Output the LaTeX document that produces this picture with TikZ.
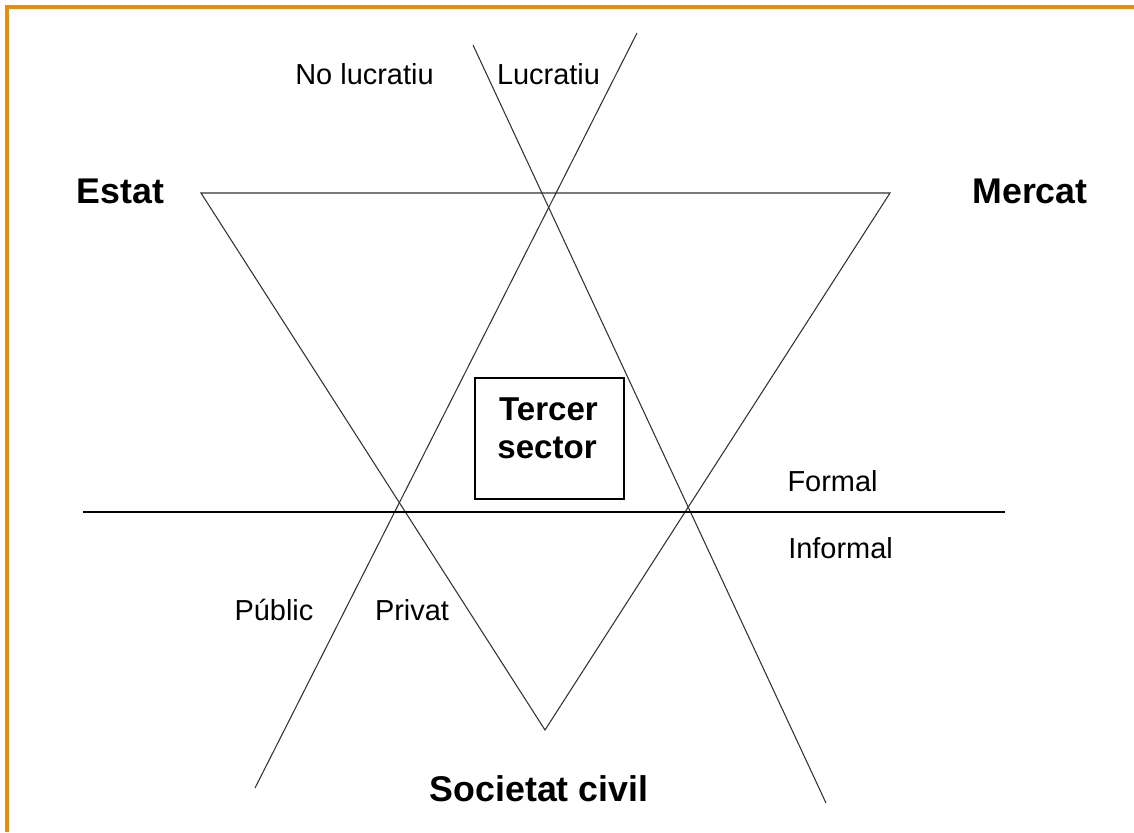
\documentclass[tikz,border=0pt]{standalone}
\usepackage{fontspec}
\setmainfont{Liberation Sans}
\definecolor{frameorange}{RGB}{232,142,12}
\begin{document}
\begin{tikzpicture}[x=0.75pt,y=-0.75pt,
  lbl/.style={font=\fontsize{21.7}{24}\selectfont, inner sep=0pt, anchor=base},
  big/.style={font=\bfseries\fontsize{26.8}{30}\selectfont, inner sep=0pt, anchor=base},
  mid/.style={font=\bfseries\fontsize{24.8}{28}\selectfont, inner sep=0pt, anchor=base},
  thin/.style={line width=0.8pt, draw=black!80},
  axis/.style={line width=1.1pt, draw=black}]
\useasboundingbox (0,0) rectangle (1134,832);
\fill[white] (0,0) rectangle (1134,832);
% orange frame (top and left)
\draw[frameorange, line width=2.4pt] (7,832) -- (7,7) -- (1134,7);
% triangle corners
\coordinate (E) at (201,193);
\coordinate (M) at (890,193);
\coordinate (S) at (545,730);
% crossing lines end points
\coordinate (a1) at (637,33);
\coordinate (a2) at (255,788);
\coordinate (b1) at (473,45);
\coordinate (b2) at (826,803);
\coordinate (h1) at (83,512);
\coordinate (h2) at (1005,512);
\draw[thin] (E) -- (M) -- (S) -- cycle;
\draw[thin] (a1) -- (a2);
\draw[thin] (b1) -- (b2);
\draw[axis] (h1) -- (h2);
% box
\node[draw=black, line width=1.1pt, minimum width=149*0.75pt, minimum height=121*0.75pt, inner sep=0pt] (box) at (549.5,438.5) {};
\node[mid] (tercer) at (548.5,420.5) {Tercer};
\node[mid] (sector) at (547,458) {sector};
% labels
\node[lbl] (nolucr) at (364.5,84) {No lucratiu};
\node[lbl] (lucr) at (548.5,84) {Lucratiu};
\node[big] (estat) at (120.5,203) {Estat};
\node[big] (mercat) at (1030,203) {Mercat};
\node[lbl] (formal) at (832.5,491) {Formal};
\node[lbl] (informal) at (840.5,558) {Informal};
\node[lbl] (public) at (274,620) {Públic};
\node[lbl] (privat) at (412,620) {Privat};
\node[big] (societat) at (539,801.5) {Societat civil};
\end{tikzpicture}
\end{document}
